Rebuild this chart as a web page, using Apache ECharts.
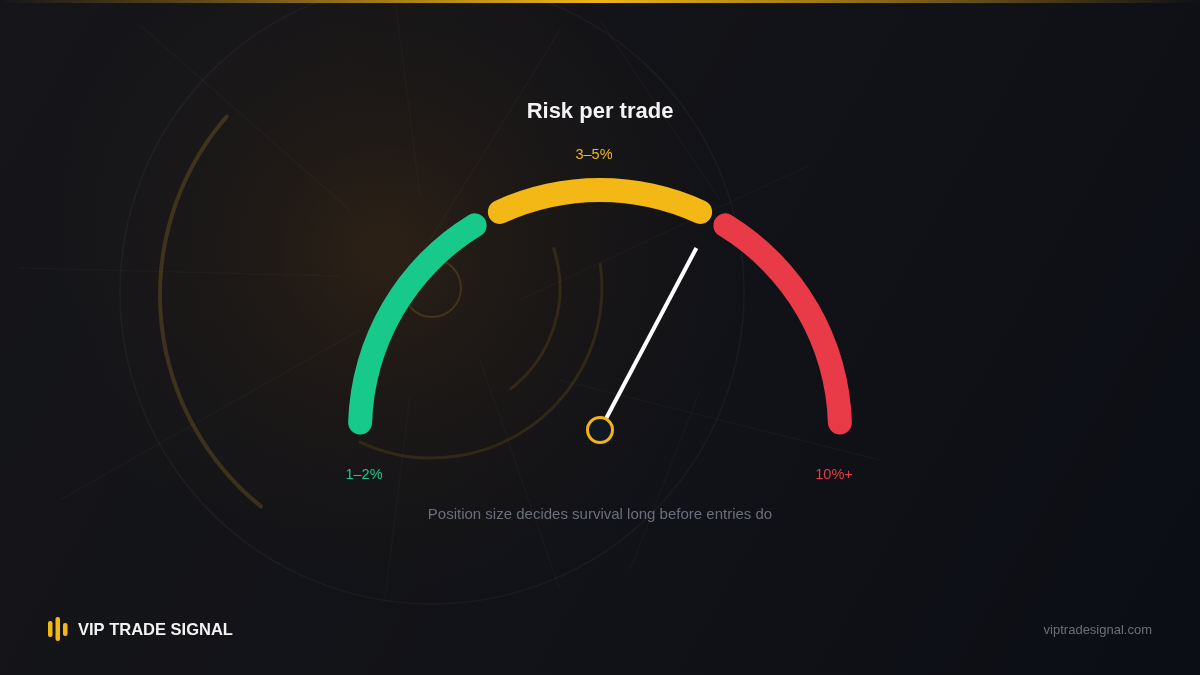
<!DOCTYPE html>
<html>
<head>
<meta charset="utf-8">
<script src="https://cdn.jsdelivr.net/npm/echarts@6/dist/echarts.min.js"></script>
<style>
html,body{margin:0;padding:0;background:#121318;}
#chart{width:1200px;height:675px;}
</style>
</head>
<body>
<div id="chart"></div>
<script>
// ---- data ----
const segmentNames = ['1–2%', '3–5%', '10%+'];
const segmentFrom = [1, 36.3, 67.5];   // gauge scale 0 (left) .. 100 (right)
const segmentTo = [32.5, 63.7, 99];
const needleValue = [65.5];
const titleText = 'Risk per trade';
const subtitleText = 'Position size decides survival long before entries do';
const brandText = 'VIP TRADE SIGNAL';
const siteText = 'viptradesignal.com';

// ---- styles ----
const segColors = ['#17c98a', '#f3b816', '#e93a47'];
const CX = 600, CY = 430;
const labelPos = [[364, 475], [594, 155], [834, 475]];
const FONT = '"Liberation Sans", Arial, Helvetica, sans-serif';

const chart = echarts.init(document.getElementById('chart'), null, {renderer: 'canvas'});

// stacked polar bars: transparent spacers + coloured segments
const series = [];
segmentNames.forEach((name, i) => {
  const prevEnd = i === 0 ? 0 : segmentTo[i - 1];
  series.push({
    type: 'bar', coordinateSystem: 'polar', stack: 'g', barWidth: 24, roundCap: true,
    silent: true, itemStyle: {color: 'rgba(0,0,0,0)'},
    data: [segmentFrom[i] - prevEnd], z: 5
  });
  series.push({
    type: 'bar', coordinateSystem: 'polar', stack: 'g', barWidth: 24, roundCap: true,
    name: name, itemStyle: {color: segColors[i]},
    data: [segmentTo[i] - segmentFrom[i]], z: 5
  });
});
series.push({
  type: 'gauge', center: [CX, CY], radius: 240, startAngle: 180, endAngle: 0,
  min: 0, max: 100, z: 10,
  axisLine: {show: false}, splitLine: {show: false}, axisTick: {show: false},
  axisLabel: {show: false}, progress: {show: false},
  pointer: {show: true, icon: 'rect', length: 206, width: 4, offsetCenter: [0, 0],
    itemStyle: {color: '#ffffff'}},
  anchor: {show: true, showAbove: true, size: 25,
    itemStyle: {color: '#121822', borderColor: '#f0b418', borderWidth: 3}},
  title: {show: false}, detail: {show: false},
  data: needleValue.map(v => ({value: v}))
});

// background decorations
const gold = (a) => 'rgba(150,115,35,' + a + ')';
const faint = 'rgba(255,235,200,0.028)';
const deg = Math.PI / 180;
const bg = [
  {type: 'rect', z: -100, shape: {x: 0, y: 0, width: 1200, height: 675}, silent: true,
   style: {fill: new echarts.graphic.LinearGradient(0, 0, 1, 1, [
     {offset: 0, color: '#16161a'}, {offset: 0.6, color: '#111217'}, {offset: 1, color: '#0b0e15'}])}},
  {type: 'rect', z: -99, shape: {x: 0, y: 0, width: 1200, height: 675}, silent: true,
   style: {fill: new echarts.graphic.RadialGradient(0.32, 0.37, 0.5, [
     {offset: 0, color: 'rgba(62,42,20,0.6)'}, {offset: 0.5, color: 'rgba(45,32,18,0.3)'}, {offset: 1, color: 'rgba(40,30,20,0)'}])}},
  {type: 'rect', z: -98, shape: {x: 0, y: 0, width: 1200, height: 3}, silent: true,
   style: {fill: new echarts.graphic.LinearGradient(0, 0, 1, 0, [
     {offset: 0, color: 'rgba(240,180,24,0)'}, {offset: 0.5, color: '#f0b418'},
     {offset: 1, color: 'rgba(240,180,24,0)'}])}},
  {type: 'circle', z: -90, shape: {cx: 432, cy: 292, r: 312}, silent: true,
   style: {fill: null, stroke: 'rgba(255,235,200,0.045)', lineWidth: 1.5}},
  {type: 'arc', z: -90, shape: {cx: 432, cy: 295, r: 272, startAngle: 129 * deg, endAngle: 221 * deg, clockwise: true}, silent: true,
   style: {stroke: gold(0.3), lineWidth: 4, lineCap: 'round', fill: null}},
  {type: 'circle', z: -90, shape: {cx: 432, cy: 288, r: 29}, silent: true,
   style: {fill: null, stroke: gold(0.28), lineWidth: 2}},
  {type: 'arc', z: -90, shape: {cx: 432, cy: 288, r: 170, startAngle: -8 * deg, endAngle: 115 * deg, clockwise: true}, silent: true,
   style: {stroke: gold(0.2), lineWidth: 3, lineCap: 'round', fill: null}},
  {type: 'arc', z: -90, shape: {cx: 432, cy: 288, r: 128, startAngle: -18 * deg, endAngle: 52 * deg, clockwise: true}, silent: true,
   style: {stroke: gold(0.2), lineWidth: 3, lineCap: 'round', fill: null}},
  {type: 'line', z: -90, silent: true, shape: {x1: 18, y1: 268, x2: 340, y2: 276}, style: {stroke: faint, lineWidth: 1.5}},
  {type: 'line', z: -90, silent: true, shape: {x1: 395, y1: 0, x2: 420, y2: 195}, style: {stroke: faint, lineWidth: 1.5}},
  {type: 'line', z: -90, silent: true, shape: {x1: 140, y1: 25, x2: 350, y2: 210}, style: {stroke: faint, lineWidth: 1.5}},
  {type: 'line', z: -90, silent: true, shape: {x1: 560, y1: 30, x2: 430, y2: 240}, style: {stroke: faint, lineWidth: 1.5}},
  {type: 'line', z: -90, silent: true, shape: {x1: 520, y1: 300, x2: 810, y2: 165}, style: {stroke: faint, lineWidth: 1.5}},
  {type: 'line', z: -90, silent: true, shape: {x1: 60, y1: 500, x2: 360, y2: 330}, style: {stroke: faint, lineWidth: 1.5}},
  {type: 'line', z: -90, silent: true, shape: {x1: 480, y1: 360, x2: 560, y2: 590}, style: {stroke: faint, lineWidth: 1.5}},
  {type: 'line', z: -90, silent: true, shape: {x1: 560, y1: 380, x2: 880, y2: 460}, style: {stroke: faint, lineWidth: 1.5}},
  {type: 'line', z: -90, silent: true, shape: {x1: 410, y1: 395, x2: 385, y2: 600}, style: {stroke: faint, lineWidth: 1.5}},
  {type: 'line', z: -90, silent: true, shape: {x1: 700, y1: 390, x2: 630, y2: 570}, style: {stroke: faint, lineWidth: 1.5}},
  {type: 'line', z: -90, silent: true, shape: {x1: 600, y1: 20, x2: 720, y2: 200}, style: {stroke: faint, lineWidth: 1.5}}
];

// text elements
const texts = [
  {type: 'text', z: 20, x: CX, y: 112, style: {text: titleText, fill: '#f3f3f3',
    font: 'bold 22px ' + FONT, textAlign: 'center', textVerticalAlign: 'middle'}},
  {type: 'text', z: 20, x: CX, y: 515, style: {text: subtitleText, fill: '#6b6f79',
    font: '15px ' + FONT, textAlign: 'center', textVerticalAlign: 'middle'}},
  {type: 'text', z: 20, x: 78, y: 630, style: {text: brandText, fill: '#f2f2f2',
    font: 'bold 16.5px ' + FONT, textAlign: 'left', textVerticalAlign: 'middle'}},
  {type: 'text', z: 20, x: 1152, y: 630, style: {text: siteText, fill: '#6b6f79',
    font: '13px ' + FONT, textAlign: 'right', textVerticalAlign: 'middle'}},
  {type: 'rect', z: 20, shape: {x: 48, y: 621, width: 4.5, height: 16, r: 2}, style: {fill: '#f3b816'}},
  {type: 'rect', z: 20, shape: {x: 55.5, y: 617, width: 4.5, height: 24, r: 2}, style: {fill: '#f3b816'}},
  {type: 'rect', z: 20, shape: {x: 63, y: 623, width: 4.5, height: 13, r: 2}, style: {fill: '#f3b816'}}
];
segmentNames.forEach((name, i) => {
  texts.push({type: 'text', z: 20, x: labelPos[i][0], y: labelPos[i][1],
    style: {text: name, fill: segColors[i], font: '14.5px ' + FONT,
      textAlign: 'center', textVerticalAlign: 'middle'}});
});

chart.setOption({
  backgroundColor: '#121318',
  animation: false,
  polar: {center: [CX, CY], radius: [228, 252]},
  angleAxis: {type: 'value', min: 0, max: 200, startAngle: 180, clockwise: true,
    axisLine: {show: false}, axisTick: {show: false}, axisLabel: {show: false}, splitLine: {show: false}},
  radiusAxis: {type: 'category', data: ['risk'], axisLine: {show: false}, axisTick: {show: false},
    axisLabel: {show: false}, splitLine: {show: false}},
  graphic: bg.concat(texts),
  series: series
});
</script>
</body>
</html>
